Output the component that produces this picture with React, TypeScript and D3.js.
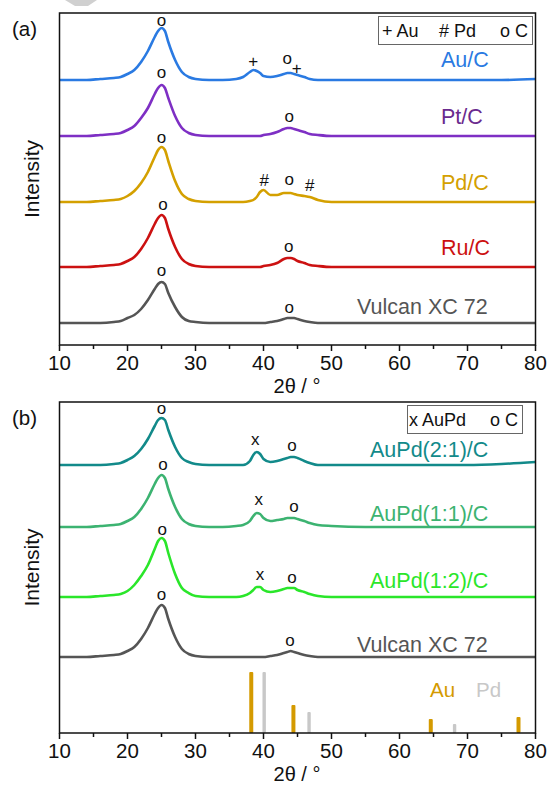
import React from "react";
import * as d3 from "d3";

// shared 2θ sampling grid (degrees)
const THETA = [10, 12, 14, 16, 18, 19, 20, 21, 22, 23, 24, 24.5, 25, 25.5, 26, 27, 28, 29, 30, 32, 34, 36, 37, 38, 38.5, 39, 39.5, 40, 41, 42, 43, 43.5, 44, 44.5, 45, 46, 46.8, 48, 50, 55, 60, 65, 70, 75, 80];

// Panel (a) intensities (offset, a.u.)
const auC = [265, 265, 265, 266, 267, 268, 271, 275, 283, 294, 308, 314, 317, 314, 303, 285, 273, 268, 266, 265, 265, 266, 268, 273, 275, 274, 272, 269, 268, 269, 271, 272, 272, 271, 270, 268, 266, 265, 265, 265, 265, 265, 265, 265, 266];
const ptC = [209, 209, 209, 210, 211, 212, 215, 219, 227, 237, 251, 257, 260, 257, 247, 229, 217, 212, 210, 209, 209, 209, 209, 209, 209, 209, 209, 210, 211, 213, 216, 217, 217, 216, 215, 213, 211, 210, 209, 209, 209, 209, 209, 209, 209];
const pdC = [143, 143, 143, 144, 145, 146, 149, 154, 162, 173, 188, 195, 198, 195, 184, 164, 151, 146, 144, 143, 143, 143, 143, 144, 145, 148, 153, 155, 150, 150, 152, 152, 152, 151, 150, 149, 148, 145, 143, 143, 143, 143, 143, 143, 143];
const ruC = [78, 78, 78, 79, 80, 81, 84, 88, 96, 107, 121, 127, 130, 127, 116, 98, 86, 81, 79, 78, 78, 78, 78, 78, 78, 78, 78, 79, 80, 82, 86, 87, 87, 86, 84, 82, 80, 79, 78, 78, 78, 78, 78, 78, 78];
const vulcanA = [22, 22, 22, 22, 23, 24, 27, 30, 36, 45, 56, 61, 63, 61, 52, 38, 28, 24, 23, 22, 22, 22, 22, 22, 22, 22, 22, 22, 23, 24, 26, 27, 27, 27, 26, 24, 23, 22, 22, 22, 22, 22, 22, 22, 22];

// Panel (b) intensities
const auPd21 = [268, 268, 268, 268, 269, 270, 273, 277, 284, 294, 307, 313, 315, 313, 303, 286, 275, 271, 269, 268, 268, 268, 268, 272, 278, 281, 279, 274, 271, 272, 274, 275, 276, 276, 275, 272, 270, 268, 268, 268, 268, 268, 268, 269, 271];
const auPd11 = [206, 206, 206, 207, 208, 209, 212, 216, 224, 235, 249, 255, 258, 255, 244, 226, 214, 209, 207, 206, 206, 207, 208, 212, 217, 220, 219, 215, 212, 213, 214, 215, 215, 215, 214, 212, 210, 208, 207, 206, 206, 206, 206, 206, 206];
const auPd12 = [136, 136, 136, 137, 138, 139, 142, 148, 157, 168, 184, 192, 195, 192, 180, 159, 145, 140, 137, 136, 136, 136, 137, 140, 143, 146, 146, 143, 141, 142, 144, 145, 145, 145, 143, 141, 139, 137, 136, 136, 136, 136, 136, 136, 136];
const vulcanB = [76, 76, 76, 77, 78, 79, 82, 86, 94, 105, 119, 125, 128, 125, 114, 96, 84, 79, 77, 76, 76, 76, 76, 76, 76, 76, 76, 76, 77, 78, 80, 81, 82, 81, 80, 78, 77, 76, 76, 76, 76, 76, 76, 76, 76];

// Reference patterns (stick heights)
const auRefTheta = [38.2, 44.4, 64.6, 77.5];
const auRefHeight = [61, 28, 14, 16];
const pdRefTheta = [40.1, 46.7, 68.1];
const pdRefHeight = [61, 21, 9];

// x ticks
const majorTicks = [10, 20, 30, 40, 50, 60, 70, 80];
const minorTicks = [15, 25, 35, 45, 55, 65, 75];

// series names / colours
const namesA = ["Au/C", "Pt/C", "Pd/C", "Ru/C", "Vulcan XC 72"];
const colorsA = ["#2a7ae2", "#7e2fc4", "#d4a000", "#cc1111", "#555555"];
const labelColorsA = ["#2a7ae2", "#6a2a8e", "#d4a000", "#cc1111", "#555555"];
const namesB = ["AuPd(2:1)/C", "AuPd(1:1)/C", "AuPd(1:2)/C", "Vulcan XC 72"];
const colorsB = ["#128a8a", "#3cb371", "#2ae62a", "#555555"];

// annotations: [theta, intensity, symbol]
const annA: [number, number, string][] = [
  [25, 325, "o"], [38.5, 284, "+"], [43.5, 287, "o"], [44.9, 277, "+"],
  [25, 273, "o"], [43.8, 229, "o"],
  [25, 208, "o"], [40.1, 165, "#"], [43.8, 166, "o"], [46.8, 160, "#"],
  [25.2, 141, "o"], [43.7, 99, "o"],
  [25, 75, "o"], [43.8, 38, "o"],
];
const annB: [number, number, string][] = [
  [25, 325, "o"], [38.8, 294, "x"], [44.2, 288, "o"],
  [25.2, 269, "o"], [39.3, 234, "x"], [44.5, 227, "o"],
  [25.1, 204, "o"], [39.5, 159, "x"], [44.2, 156, "o"],
  [25, 139, "o"], [43.9, 93, "o"],
];

const FONT = "'Liberation Sans', Arial, sans-serif";

function Panel(props: {
  top: number; bottom: number; series: number[][]; colors: string[];
  names: string[]; labelColors: string[]; labelPos: [number, number][];
  ann: [number, number, string][]; tag: string; children?: any;
  legend: React.ReactNode; yMax: number;
}) {
  const { top, bottom, series, colors, names, labelColors, labelPos, ann, tag, legend, yMax } = props;
  const x = d3.scaleLinear().domain([10, 80]).range([59.5, 535.5]);
  const y = d3.scaleLinear().domain([0, yMax]).range([bottom, top]);
  const line = d3.line<number>().x((_, i) => x(THETA[i])).y((v) => y(v)).curve(d3.curveMonotoneX);
  return (
    <g>
      {series.map((s, i) => (
        <path key={i} d={line(s) || ""} fill="none" stroke={colors[i]} strokeWidth={2.6} strokeLinejoin="round" />
      ))}
      {props.children && props.children(x, y)}
      {ann.map((a, i) => (
        <text key={i} x={x(a[0])} y={y(a[1])} textAnchor="middle" dominantBaseline="central" fontSize={17} fontFamily={FONT} fill="#111">{a[2]}</text>
      ))}
      {names.map((n, i) => (
        <text key={n + i} x={labelPos[i][0]} y={labelPos[i][1]} dominantBaseline="central" fontSize={21.5} fontFamily={FONT} fill={labelColors[i]}>{n}</text>
      ))}
      {legend}
      <rect x={59.5} y={top} width={476} height={bottom - top} fill="none" stroke="#111" strokeWidth={1.5} />
      {majorTicks.map((t) => (
        <g key={t}>
          <line x1={x(t)} x2={x(t)} y1={bottom} y2={bottom + 6} stroke="#111" strokeWidth={1.5} />
          <text x={x(t)} y={bottom + 17} textAnchor="middle" dominantBaseline="central" fontSize={20.5} fontFamily={FONT} fill="#111">{t}</text>
        </g>
      ))}
      {minorTicks.map((t) => (
        <line key={t} x1={x(t)} x2={x(t)} y1={bottom} y2={bottom + 4} stroke="#111" strokeWidth={1.5} />
      ))}
      <text x={297} y={bottom + 41} textAnchor="middle" dominantBaseline="central" fontSize={20} fontFamily={FONT} fill="#111">2θ / °</text>
      <text transform={`translate(31, ${(top + bottom) / 2}) rotate(-90)`} textAnchor="middle" dominantBaseline="central" fontSize={21} fontFamily={FONT} fill="#111">Intensity</text>
      <text x={12} y={top + 15} dominantBaseline="central" fontSize={20.5} fontFamily={FONT} fill="#111">{tag}</text>
    </g>
  );
}

export default function App() {
  const legendA = (
    <g fontFamily={FONT} fontSize={18} fill="#111">
      <rect x={378.5} y={16.5} width={154} height={28} fill="#fff" stroke="#666" strokeWidth={1} />
      <text x={382} y={31} dominantBaseline="central">+ Au</text>
      <text x={439} y={31} dominantBaseline="central"># Pd</text>
      <text x={500} y={31} dominantBaseline="central">o C</text>
    </g>
  );
  const legendB = (
    <g fontFamily={FONT} fontSize={18} fill="#111">
      <rect x={407.5} y={405.5} width={115} height={28} fill="#fff" stroke="#666" strokeWidth={1} />
      <text x={409} y={420} dominantBaseline="central">x AuPd</text>
      <text x={490} y={420} dominantBaseline="central">o C</text>
    </g>
  );
  return (
    <svg width={548} height={785} style={{ position: "absolute", left: 0, top: 0, background: "#fff" }}>
      <rect x={0} y={0} width={548} height={785} fill="#fff" />
      <path d="M65,0 L97,0 L88,6 L75,6 Z" fill="#d0d0d0" />
      <Panel
        top={13} bottom={345} yMax={332}
        series={[auC, ptC, pdC, ruC, vulcanA]} colors={colorsA}
        names={namesA} labelColors={labelColorsA}
        labelPos={[[441, 60], [441, 117], [441, 183], [441, 248], [357, 307]]}
        ann={annA} tag="(a)" legend={legendA}
      />
      <Panel
        top={402} bottom={733} yMax={331}
        series={[auPd21, auPd11, auPd12, vulcanB]} colors={colorsB}
        names={namesB} labelColors={colorsB}
        labelPos={[[370, 450], [370, 514], [370, 581], [357, 645]]}
        ann={annB} tag="(b)" legend={legendB}
      >
        {(x: any, y: any) => (
          <g>
            {auRefTheta.map((t, i) => (
              <rect key={"au" + i} x={x(t) - 2} y={y(auRefHeight[i])} width={4} height={y(0) - y(auRefHeight[i])} rx={1} fill="#d49a00" />
            ))}
            {pdRefTheta.map((t, i) => (
              <rect key={"pd" + i} x={x(t) - 1.7} y={y(pdRefHeight[i])} width={3.4} height={y(0) - y(pdRefHeight[i])} rx={1} fill="#c8c8c8" />
            ))}
            <text x={430} y={689} dominantBaseline="central" fontSize={20.5} fontFamily={FONT} fill="#d49a00">Au</text>
            <text x={476} y={689} dominantBaseline="central" fontSize={20.5} fontFamily={FONT} fill="#c8c8c8">Pd</text>
          </g>
        )}
      </Panel>
    </svg>
  );
}
